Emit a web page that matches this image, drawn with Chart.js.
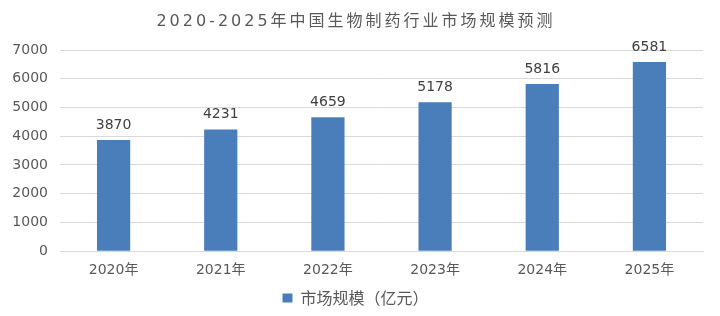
<!DOCTYPE html>
<html>
<head>
<meta charset="utf-8">
<script src="https://cdn.jsdelivr.net/npm/chart.js@4"></script>
<style>
  html, body { margin: 0; padding: 0; background: #fff; }
  #wrap { width: 720px; height: 316px; }
</style>
</head>
<body>
<div id="wrap"><canvas id="chart"></canvas></div>
<script>
const years = ['2020年', '2021年', '2022年', '2023年', '2024年', '2025年'];
const marketSize = [3870, 4231, 4659, 5178, 5816, 6581];
const seriesName = '市场规模（亿元）';
const chartTitle = '2020-2025年中国生物制药行业市场规模预测';

const FONT = '"DejaVu Sans", "Noto Sans CJK SC", sans-serif';
const CJK_FONT = '"Noto Sans CJK SC", "DejaVu Sans", sans-serif';

// title drawn by hand so it can get the wide letter spacing of the original
const spacedTitle = {
    id: 'spacedTitle',
    afterDraw(chart) {
        const ctx = chart.ctx;
        ctx.save();
        ctx.font = '16px ' + FONT;
        ctx.letterSpacing = '3px';
        ctx.fillStyle = '#595959';
        ctx.textAlign = 'center';
        ctx.textBaseline = 'middle';
        ctx.fillText(chartTitle, chart.width / 2 - 4, 22);
        ctx.restore();
    }
};

// draws the value above each bar
const valueLabels = {
    id: 'valueLabels',
    afterDatasetsDraw(chart) {
        const ctx = chart.ctx;
        ctx.save();
        ctx.font = '14px ' + FONT;
        ctx.fillStyle = '#404040';
        ctx.textAlign = 'center';
        ctx.textBaseline = 'bottom';
        chart.getDatasetMeta(0).data.forEach((bar, i) => {
            ctx.fillText(chart.data.datasets[0].data[i], bar.x, bar.y - 8);
        });
        ctx.restore();
    }
};

new Chart(document.getElementById('chart'), {
    type: 'bar',
    data: {
        labels: years,
        datasets: [{
            label: seriesName,
            data: marketSize,
            backgroundColor: '#4a7ebb',
            barPercentage: 0.62,
            categoryPercentage: 0.5
        }]
    },
    options: {
        responsive: true,
        maintainAspectRatio: false,
        animation: false,
        layout: { padding: { left: 8, right: 17, top: 50, bottom: 0 } },
        plugins: {
            title: { display: false },
            legend: {
                position: 'bottom',
                labels: {
                    color: '#595959',
                    font: { family: CJK_FONT, size: 16 },
                    boxWidth: 10,
                    boxHeight: 9,
                    padding: 8
                }
            },
            tooltip: { enabled: false }
        },
        scales: {
            x: {
                grid: { display: false },
                border: { color: '#d9d9d9' },
                ticks: { color: '#595959', font: { family: FONT, size: 14 }, padding: 3 }
            },
            y: {
                min: 0,
                max: 7000,
                ticks: {
                    stepSize: 1000,
                    color: '#595959',
                    font: { family: FONT, size: 14 },
                    padding: 12,
                    callback: v => String(v)
                },
                grid: { color: '#d9d9d9', drawTicks: false },
                border: { display: false },
                afterFit(axis) { axis.width = 52; }
            }
        }
    },
    plugins: [valueLabels, spacedTitle]
});
</script>
</body>
</html>
